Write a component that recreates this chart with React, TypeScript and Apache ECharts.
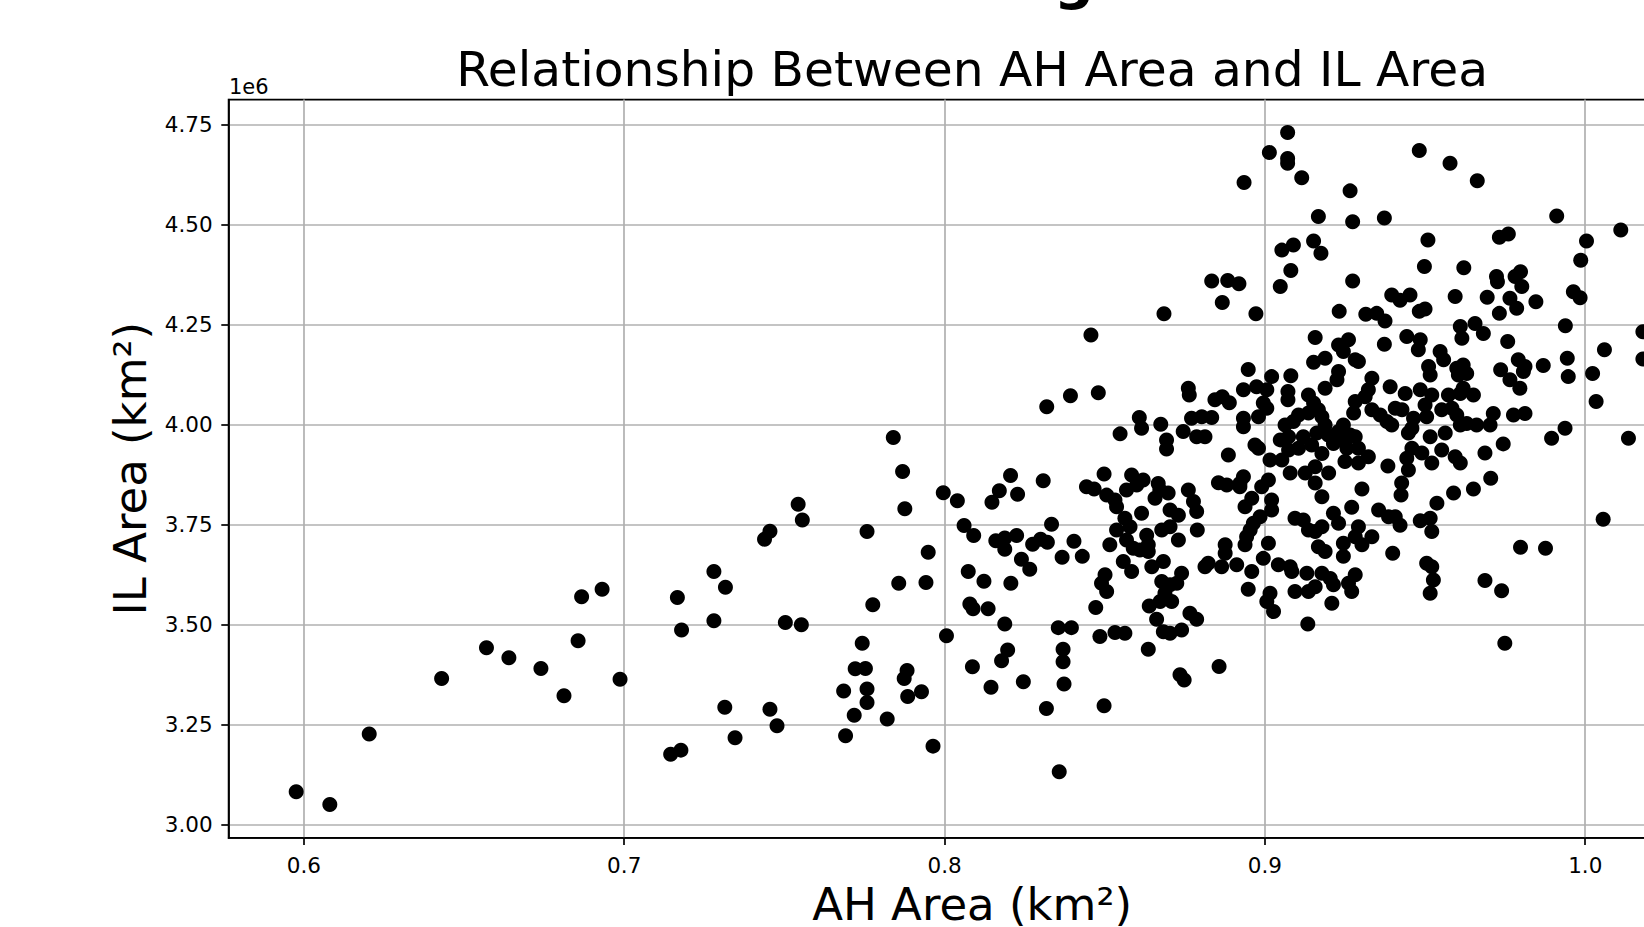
import React, { useEffect, useRef } from "react";
import * as echarts from "echarts";

// AH area (km^2) for each sample
const AH_AREA: number[] = [
  0.5976, 0.6081, 0.6204, 0.643, 0.657, 0.664, 0.674, 0.6812, 0.6856, 0.6867, 0.6931, 0.6987, 0.7166, 0.7179, 0.7145, 0.7177,
  0.728, 0.7316, 0.728, 0.7314, 0.7346, 0.7438, 0.7455, 0.7543, 0.7556, 0.7503, 0.7553, 0.7455, 0.7477, 0.7758, 0.784, 0.7869,
  0.7876, 0.7949, 0.7857, 0.7942, 0.7776, 0.7743, 0.7721, 0.7753, 0.7685, 0.7758, 0.7758, 0.7718, 0.7691, 0.7821, 0.7883, 0.7874,
  0.7885, 0.7928, 0.7964, 0.8006, 0.7996, 0.804, 0.8061, 0.8091, 0.8074, 0.8123, 0.8079, 0.8089, 0.8136, 0.8188, 0.8197, 0.8178,
  0.8087, 0.8145, 0.8246, 0.8318, 0.8358, 0.8373, 0.837, 0.837, 0.8355, 0.8396, 0.8472, 0.8148, 0.8171, 0.8206, 0.8228, 0.8308,
  0.816, 0.8188, 0.8225, 0.8188, 0.824, 0.8266, 0.8207, 0.8275, 0.83, 0.8321, 0.8334, 0.8367, 0.8404, 0.843, 0.8319, 0.8393,
  0.848, 0.8457, 0.8443, 0.8467,
  0.9014, 0.8935, 0.8834, 0.8884, 0.8919, 0.8867, 0.8685, 0.8972, 0.8948, 0.9021, 0.8933, 0.8974, 0.9006, 0.8761, 0.8764, 0.8844,
  0.8867, 0.8889, 0.8995, 0.9006, 0.898, 0.8933, 0.8933, 0.8608, 0.8615, 0.8675, 0.8771, 0.8803, 0.8834,
  0.9071, 0.9071, 0.9071, 0.9115, 0.9266, 0.9167, 0.9274, 0.9373, 0.9482, 0.9578, 0.9509, 0.9498, 0.9053, 0.9089, 0.9152, 0.9175,
  0.9081, 0.9048, 0.9274, 0.9396, 0.9422, 0.9453, 0.9594, 0.9232, 0.9315, 0.9349, 0.9375, 0.9482, 0.95, 0.961, 0.9615, 0.9157,
  0.9261, 0.923, 0.9245, 0.9282, 0.9292, 0.9188, 0.9152, 0.9373, 0.9443, 0.9485, 0.9479, 0.9547, 0.9558, 0.9511, 0.9516, 0.9599,
  0.9604, 0.9081, 0.923, 0.9225, 0.9188, 0.9072, 0.9072, 0.9136, 0.9152, 0.9167, 0.9334, 0.9323, 0.9313, 0.9391, 0.9438, 0.9485,
  0.9521, 0.9573, 0.961, 0.9282, 0.9277, 0.9334, 0.936, 0.9381, 0.9407, 0.9428, 0.95, 0.9505, 0.9552, 0.9584, 0.9599, 0.961,
  0.9464, 0.9459, 0.9105, 0.9136, 0.9178, 0.9188, 0.9089, 0.9063, 0.9245, 0.9396,
  0.9663, 0.9911, 1.0111, 1.0004, 0.9986, 0.9732, 0.976, 0.9621, 0.9723, 0.9726, 0.9781, 0.9798, 0.9802, 0.9694, 0.9765, 0.9786,
  0.9732, 0.9846, 0.9963, 0.9984, 0.9938, 0.9656, 0.9682, 0.9758, 0.9791, 0.9812, 0.9807, 0.9736, 0.9765, 0.9796, 0.9869, 0.9944,
  0.9947, 1.006, 1.0023, 1.0034, 1.018, 1.018, 0.9619, 0.963, 0.9619, 0.9651, 0.9713, 0.9776, 0.9812, 0.963, 0.9661, 0.9703,
  0.9937,
  0.8548, 0.8693, 0.8693, 0.8745, 0.8787, 0.8813, 0.8886, 0.8969, 0.898, 0.9016, 0.8498, 0.8506, 0.8532, 0.8537, 0.8584, 0.862,
  0.86, 0.8568, 0.8667, 0.8672, 0.8698, 0.8657, 0.8761, 0.8777, 0.8787, 0.8704, 0.873, 0.8615, 0.8563, 0.8537, 0.8579, 0.8631,
  0.8678, 0.8704, 0.873, 0.8789, 0.8516, 0.8568, 0.8589, 0.861, 0.8636, 0.8636, 0.8558, 0.8584, 0.8647, 0.8683, 0.8501, 0.849,
  0.8506, 0.8678, 0.8704, 0.8725, 0.874, 0.8688, 0.8673, 0.8709, 0.8639, 0.8662, 0.8766, 0.8787, 0.8485, 0.8532, 0.8563, 0.8683,
  0.8704, 0.874, 0.8636, 0.8735, 0.8748, 0.8857, 0.8498, 0.8855, 0.8881, 0.8922, 0.8933, 0.8922, 0.9011, 0.899, 0.8959, 0.8938,
  0.9021, 0.9021, 0.8985, 0.8964, 0.8954, 0.8943, 0.8938, 0.9011, 0.8876, 0.8876, 0.8823, 0.8813, 0.8865, 0.8912, 0.8959, 0.8995,
  0.8948, 0.9016, 0.9006, 0.9027,
  0.9048, 0.9074, 0.912, 0.9146, 0.9105, 0.9074, 0.9053, 0.9162, 0.9198, 0.923, 0.9214, 0.9245, 0.9266, 0.9282, 0.9292, 0.9256,
  0.9323, 0.9292, 0.925, 0.9178, 0.9079, 0.9126, 0.9157, 0.9199, 0.9157, 0.9178, 0.9384, 0.9303, 0.9448, 0.9459, 0.9443, 0.9448,
  0.9427, 0.9425, 0.949, 0.9521, 0.9552, 0.9594, 0.961, 0.9516, 0.9563, 0.9537, 0.9589, 0.9271, 0.9355, 0.9386, 0.9407, 0.9422,
  0.9485, 0.9516, 0.9521, 0.9214, 0.923, 0.9094, 0.912, 0.9136, 0.9157, 0.9178, 0.9292, 0.9282, 0.9303, 0.9334, 0.9245, 0.9245,
  0.9167, 0.9188, 0.9399, 0.9505, 0.9521, 0.9526, 0.9516, 0.9042, 0.9079, 0.9084, 0.9131, 0.9178, 0.9204, 0.9214, 0.9261, 0.9282,
  0.9271, 0.9094, 0.9136, 0.9157, 0.9209, 0.9134,
  0.9744, 0.9687, 0.9705, 0.9651, 0.9895, 1.0135, 1.0056, 0.9798, 0.9876, 0.9687, 0.9739, 0.9749,
];

// IL area (km^2) for each sample, same order as AH_AREA
const IL_AREA: number[] = [
  3.083e6, 3.051e6, 3.227e6, 3.366e6, 3.443e6, 3.418e6, 3.391e6, 3.323e6, 3.46e6, 3.57e6, 3.589e6, 3.364e6, 3.568e6, 3.487e6, 3.177e6, 3.187e6,
  3.633e6, 3.594e6, 3.51e6, 3.294e6, 3.218e6, 3.714e6, 3.734e6, 3.801e6, 3.762e6, 3.506e6, 3.5e6, 3.289e6, 3.248e6, 3.733e6, 3.968e6, 3.883e6,
  3.79e6, 3.681e6, 3.604e6, 3.606e6, 3.55e6, 3.454e6, 3.39e6, 3.391e6, 3.335e6, 3.34e6, 3.306e6, 3.274e6, 3.223e6, 3.265e6, 3.386e6, 3.366e6,
  3.321e6, 3.333e6, 3.197e6, 3.473e6, 3.83e6, 3.81e6, 3.748e6, 3.723e6, 3.633e6, 3.609e6, 3.552e6, 3.54e6, 3.54e6, 3.502e6, 3.437e6, 3.41e6,
  3.395e6, 3.344e6, 3.358e6, 3.291e6, 3.133e6, 3.352e6, 3.408e6, 3.439e6, 3.493e6, 3.493e6, 3.543e6, 3.806e6, 3.835e6, 3.873e6, 3.826e6, 3.86e6,
  3.71e6, 3.717e6, 3.723e6, 3.689e6, 3.664e6, 3.639e6, 3.604e6, 3.701e6, 3.714e6, 3.706e6, 3.751e6, 3.669e6, 3.709e6, 3.671e6, 4.045e6, 4.072e6,
  4.08e6, 4.224e6, 3.845e6, 3.839e6,
  4.68e6, 4.605e6, 4.359e6, 4.36e6, 4.352e6, 4.305e6, 4.277e6, 4.277e6, 4.138e6, 4.12e6, 4.087e6, 4.095e6, 4.087e6, 4.091e6, 4.074e6, 4.062e6,
  4.07e6, 4.055e6, 4.054e6, 4.041e6, 4.02e6, 4.016e6, 3.995e6, 4.018e6, 3.991e6, 4.001e6, 4.016e6, 4.02e6, 4.018e6,
  4.73e6, 4.665e6, 4.653e6, 4.617e6, 4.584e6, 4.52e6, 4.507e6, 4.516e6, 4.685e6, 4.653e6, 4.461e6, 4.395e6, 4.436e6, 4.449e6, 4.459e6, 4.428e6,
  4.385e6, 4.345e6, 4.359e6, 4.324e6, 4.311e6, 4.324e6, 4.32e6, 4.283e6, 4.276e6, 4.278e6, 4.259e6, 4.283e6, 4.289e6, 4.245e6, 4.216e6, 4.218e6,
  4.212e6, 4.199e6, 4.183e6, 4.162e6, 4.158e6, 4.166e6, 4.156e6, 4.201e6, 4.22e6, 4.212e6, 4.187e6, 4.183e6, 4.162e6, 4.145e6, 4.124e6, 4.141e6,
  4.124e6, 4.122e6, 4.133e6, 4.112e6, 4.091e6, 4.083e6, 4.062e6, 4.074e6, 4.054e6, 4.037e6, 4.116e6, 4.087e6, 4.07e6, 4.095e6, 4.078e6, 4.087e6,
  4.074e6, 4.074e6, 4.078e6, 4.058e6, 4.029e6, 4.037e6, 4.024e6, 4.008e6, 4.041e6, 4.037e6, 4.049e6, 4.02e6, 4.037e6, 4.041e6, 4.024e6, 3.999e6,
  4.016e6, 3.991e6, 4.024e6, 4.029e6, 4.02e6, 3.999e6, 4.008e6, 3.999e6, 3.999e6, 3.999e6,
  4.609e6, 4.521e6, 4.486e6, 4.459e6, 4.411e6, 4.468e6, 4.476e6, 4.392e6, 4.37e6, 4.357e6, 4.37e6, 4.382e6, 4.345e6, 4.318e6, 4.316e6, 4.291e6,
  4.278e6, 4.307e6, 4.332e6, 4.317e6, 4.247e6, 4.253e6, 4.228e6, 4.208e6, 4.162e6, 4.145e6, 4.133e6, 4.137e6, 4.112e6, 4.091e6, 4.148e6, 4.166e6,
  4.12e6, 4.187e6, 4.128e6, 4.058e6, 4.232e6, 4.164e6, 4.149e6, 4.128e6, 4.091e6, 4.074e6, 4.028e6, 4.024e6, 4.028e6, 4.003e6, 3.999e6, 3.999e6,
  3.991e6,
  3.977e6, 3.962e6, 3.939e6, 3.983e6, 3.97e6, 3.97e6, 3.924e6, 3.949e6, 3.941e6, 3.912e6, 3.877e6, 3.824e6, 3.812e6, 3.795e6, 3.874e6, 3.862e6,
  3.849e6, 3.837e6, 3.853e6, 3.837e6, 3.829e6, 3.816e6, 3.837e6, 3.808e6, 3.783e6, 3.787e6, 3.774e6, 3.779e6, 3.766e6, 3.737e6, 3.745e6, 3.724e6,
  3.737e6, 3.745e6, 3.712e6, 3.737e6, 3.7e6, 3.712e6, 3.691e6, 3.687e6, 3.7e6, 3.683e6, 3.658e6, 3.633e6, 3.645e6, 3.658e6, 3.625e6, 3.604e6,
  3.583e6, 3.608e6, 3.6e6, 3.604e6, 3.629e6, 3.579e6, 3.558e6, 3.558e6, 3.547e6, 3.514e6, 3.529e6, 3.514e6, 3.471e6, 3.481e6, 3.479e6, 3.483e6,
  3.479e6, 3.487e6, 3.439e6, 3.375e6, 3.362e6, 3.396e6, 3.298e6, 3.855e6, 3.849e6, 3.853e6, 3.87e6, 3.845e6, 3.862e6, 3.845e6, 3.816e6, 3.795e6,
  3.812e6, 3.787e6, 3.77e6, 3.754e6, 3.737e6, 3.72e6, 3.7e6, 3.704e6, 3.7e6, 3.679e6, 3.654e6, 3.645e6, 3.645e6, 3.65e6, 3.633e6, 3.666e6,
  3.589e6, 3.579e6, 3.558e6, 3.533e6,
  3.962e6, 3.97e6, 3.97e6, 3.949e6, 3.941e6, 3.937e6, 3.912e6, 3.979e6, 3.974e6, 3.983e6, 3.953e6, 3.962e6, 3.974e6, 3.97e6, 3.941e6, 3.941e6,
  3.92e6, 3.904e6, 3.908e6, 3.928e6, 3.879e6, 3.879e6, 3.895e6, 3.879e6, 3.854e6, 3.82e6, 3.897e6, 3.839e6, 3.979e6, 3.941e6, 3.916e6, 3.887e6,
  3.854e6, 3.824e6, 3.929e6, 3.904e6, 3.937e6, 3.92e6, 3.904e6, 3.97e6, 3.979e6, 3.804e6, 3.829e6, 3.794e6, 3.787e6, 3.77e6, 3.77e6, 3.749e6,
  3.76e6, 3.766e6, 3.733e6, 3.779e6, 3.754e6, 3.766e6, 3.762e6, 3.737e6, 3.733e6, 3.745e6, 3.745e6, 3.72e6, 3.7e6, 3.72e6, 3.704e6, 3.671e6,
  3.695e6, 3.683e6, 3.679e6, 3.654e6, 3.645e6, 3.612e6, 3.579e6, 3.65e6, 3.645e6, 3.633e6, 3.629e6, 3.629e6, 3.616e6, 3.6e6, 3.604e6, 3.625e6,
  3.583e6, 3.583e6, 3.583e6, 3.595e6, 3.554e6, 3.502e6,
  3.952e6, 3.929e6, 3.866e6, 3.839e6, 3.966e6, 3.966e6, 3.764e6, 3.694e6, 3.691e6, 3.611e6, 3.585e6, 3.454e6,
];

const X_TICKS: number[] = [0.6, 0.7, 0.8, 0.9, 1.0];
const Y_TICKS: number[] = [3.0e6, 3.25e6, 3.5e6, 3.75e6, 4.0e6, 4.25e6, 4.5e6, 4.75e6];

const TITLE = "Relationship Between AH Area and IL Area";
const X_NAME = "AH Area (km²)";
const Y_NAME = "IL Area (km²)";
const OFFSET_TEXT = "1e6";

const FONT = "'DejaVu Sans', 'Liberation Sans', sans-serif";

export default function App() {
  const ref = useRef<HTMLDivElement>(null);

  useEffect(() => {
    if (!ref.current) return;
    const chart = echarts.init(ref.current, undefined, { renderer: "svg" });
    const n = Math.min(AH_AREA.length, IL_AREA.length);
    const points: number[][] = [];
    for (let i = 0; i < n; i++) points.push([AH_AREA[i], IL_AREA[i]]);

    const gridLeft = 228.6;
    const gridTop = 99.6;
    const gridW = 1487;
    const gridH = 738.2;

    chart.setOption({
      animation: false,
      backgroundColor: "#ffffff",
      grid: {
        left: gridLeft,
        top: gridTop,
        width: gridW,
        height: gridH,
        show: true,
        borderColor: "#000",
        borderWidth: 1.7,
        backgroundColor: "transparent",
        containLabel: false,
        outerBoundsMode: "none",
      },
      xAxis: {
        type: "value",
        min: 0.5765,
        max: 1.0407,
        axisLine: { show: true, onZero: false, lineStyle: { color: "#000", width: 1.7 } },
        axisTick: { show: true, length: 7.3, lineStyle: { color: "#000", width: 1.7 }, customValues: X_TICKS },
        axisLabel: {
          customValues: X_TICKS,
          formatter: (v: number) => v.toFixed(1),
          fontSize: 21.5,
          color: "#000",
          fontFamily: FONT,
          margin: 17,
        },
        splitLine: { show: true, lineStyle: { color: "#b0b0b0", width: 1.7 } },
        name: X_NAME,
        nameLocation: "middle",
        nameGap: 44,
        nameTextStyle: { fontSize: 45, color: "#000", fontFamily: FONT },
      },
      yAxis: {
        type: "value",
        min: 2.968e6,
        max: 4.812e6,
        axisLine: { show: true, onZero: false, lineStyle: { color: "#000", width: 1.7 } },
        axisTick: { show: true, length: 7.3, lineStyle: { color: "#000", width: 1.7 }, customValues: Y_TICKS },
        axisLabel: {
          customValues: Y_TICKS,
          formatter: (v: number) => (v / 1e6).toFixed(2),
          fontSize: 21.5,
          color: "#000",
          fontFamily: FONT,
          margin: 16,
        },
        splitLine: { show: true, lineStyle: { color: "#b0b0b0", width: 1.7 } },
        name: Y_NAME,
        nameLocation: "middle",
        nameRotate: 90,
        nameGap: 76,
        nameTextStyle: { fontSize: 45, color: "#000", fontFamily: FONT },
      },
      series: [
        {
          type: "scatter",
          data: points,
          symbol: "circle",
          symbolSize: 15,
          itemStyle: { color: "#000", opacity: 1 },
          emphasis: { disabled: true },
          silent: true,
          z: 3,
        },
      ],
      graphic: [
        {
          type: "text",
          x: gridLeft + gridW / 2,
          y: 69,
          style: {
            text: TITLE,
            fill: "#000",
            fontSize: 48.7,
            fontFamily: FONT,
            textAlign: "center",
            textVerticalAlign: "middle",
          },
        },
        {
          type: "text",
          x: 229,
          y: 87,
          style: {
            text: OFFSET_TEXT,
            fill: "#000",
            fontSize: 21,
            fontFamily: FONT,
            textAlign: "left",
            textVerticalAlign: "middle",
          },
        },
        {
          type: "text",
          x: 1074,
          y: -22,
          style: {
            text: "g",
            fill: "#000",
            fontSize: 56,
            fontWeight: "bold",
            fontFamily: FONT,
            textAlign: "center",
            textVerticalAlign: "middle",
          },
        },
      ],
    });
    return () => chart.dispose();
  }, []);

  return (
    <div
      ref={ref}
      style={{ position: "fixed", left: 0, top: 0, width: 1644, height: 927, background: "#fff" }}
    />
  );
}
